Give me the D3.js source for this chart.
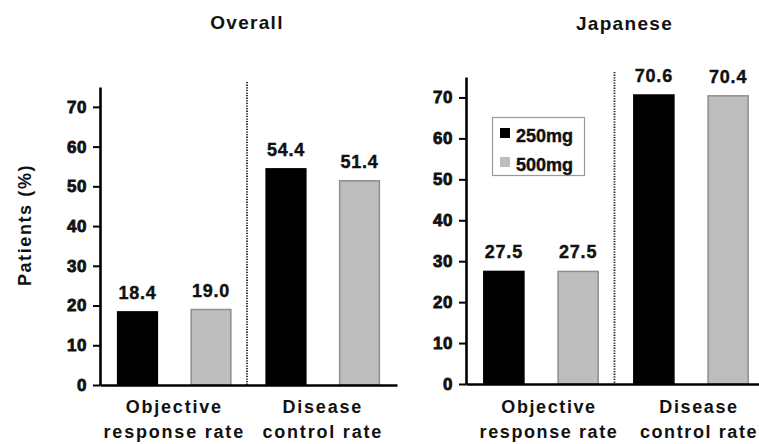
<!DOCTYPE html>
<html>
<head>
<meta charset="utf-8">
<script src="https://cdn.jsdelivr.net/npm/d3@7"></script>
<style>
  html, body { margin: 0; padding: 0; background: #fff; }
  svg { display: block; }
  text { font-family: "Liberation Sans", Arial, sans-serif; fill: #111; }
</style>
</head>
<body>
<svg id="chart" width="759" height="444"></svg>
<script>
// ---- data ----
const categories = ["Objective response rate", "Disease control rate"];
const categoryLines = [["Objective", "response rate"], ["Disease", "control rate"]];
const doses = ["250mg", "500mg"];
const panelTitles = ["Overall", "Japanese"];
const overall250 = [18.4, 54.4];
const overall500 = [19.0, 51.4];
const japanese250 = [27.5, 70.6];
const japanese500 = [27.5, 70.4];
const yTicks = [0, 10, 20, 30, 40, 50, 60, 70];
const yMax = 75;

const colors = { "250mg": "#000000", "500mg": "#bdbdbd" };
const strokes = { "250mg": "#000000", "500mg": "#8e8e8e" };

const svg = d3.select("#chart");

const panels = [
  { title: panelTitles[0], v250: overall250, v500: overall500,
    xr: [100, 397], yr: [385, 87], labelShift: 0, labelSpacing: 1.8, titleShift: 0, titleY: 29, legend: false },
  { title: panelTitles[1], v250: japanese250, v500: japanese500,
    xr: [466, 766], yr: [384, 77], labelShift: 8, labelSpacing: 1.6, titleShift: 10, titleY: 30, legend: true }
];

panels.forEach(p => {
  const g = svg.append("g");
  const x0 = d3.scaleBand().domain(categories).range(p.xr).padding(0);
  const x1 = d3.scaleBand().domain(doses).range([0, x0.bandwidth()])
    .paddingInner(0.46).paddingOuter(0.24);
  const y = d3.scaleLinear().domain([0, yMax]).range(p.yr);

  const rows = [];
  categories.forEach((c, i) => {
    rows.push({ cat: c, dose: "250mg", v: p.v250[i] });
    rows.push({ cat: c, dose: "500mg", v: p.v500[i] });
  });

  // dotted separator
  const sepX = x0(categories[1]) - 1.5;
  g.append("line")
    .attr("x1", sepX).attr("x2", sepX)
    .attr("y1", y(yMax) - 5).attr("y2", y(0))
    .attr("stroke", "#222").attr("stroke-width", 1.8)
    .attr("stroke-dasharray", "1.3,1.3");

  // bars
  g.selectAll("rect.bar").data(rows).join("rect")
    .attr("class", "bar")
    .attr("x", d => x0(d.cat) + x1(d.dose))
    .attr("width", x1.bandwidth())
    .attr("y", d => y(d.v))
    .attr("height", d => y(0) - y(d.v))
    .attr("fill", d => colors[d.dose])
    .attr("stroke", d => strokes[d.dose])
    .attr("stroke-width", 1.5);

  // value labels
  g.selectAll("text.val").data(rows).join("text")
    .attr("class", "val")
    .attr("x", d => x0(d.cat) + x1(d.dose) + x1.bandwidth() / 2)
    .attr("y", d => y(d.v) - 13)
    .attr("text-anchor", "middle")
    .style("font-size", "18px").style("font-weight", "bold")
    .style("letter-spacing", "0.8px")
    .attr("stroke", "#111").attr("stroke-width", 0.4)
    .text(d => d3.format(".1f")(d.v));

  // y axis
  const ya = g.append("g")
    .attr("transform", `translate(${p.xr[0]},0)`)
    .call(d3.axisLeft(y).tickValues(yTicks).tickSize(7).tickSizeOuter(0).tickPadding(6));
  ya.select(".domain").attr("stroke", "#000").attr("stroke-width", 2.6);
  ya.selectAll(".tick line").attr("stroke", "#000").attr("stroke-width", 2);
  ya.selectAll(".tick text")
    .style("font-size", "17px").style("font-weight", "bold")
    .style("font-family", "'Liberation Sans', Arial, sans-serif")
    .style("letter-spacing", "0.5px")
    .attr("fill", "#111").attr("stroke", "#111").attr("stroke-width", 0.8);

  // x axis
  const xa = g.append("g")
    .attr("transform", `translate(0,${y(0)})`)
    .call(d3.axisBottom(x0).tickSize(0).tickSizeOuter(0).tickFormat(""));
  xa.select(".domain").attr("stroke", "#000").attr("stroke-width", 2.6);

  // category labels
  categories.forEach((c, i) => {
    const cx = x0(c) + x0.bandwidth() / 2 + p.labelShift;
    const t = g.append("text")
      .attr("x", cx).attr("y", 413)
      .attr("text-anchor", "middle")
      .style("font-size", "18px").style("font-weight", "bold")
      .style("letter-spacing", p.labelSpacing + "px")
      .attr("fill", "#222");
    t.append("tspan").attr("x", cx).attr("y", 413).text(categoryLines[i][0]);
    t.append("tspan").attr("x", cx).attr("y", 438).text(categoryLines[i][1]);
  });

  // title
  g.append("text")
    .attr("x", sepX + p.titleShift).attr("y", p.titleY)
    .attr("text-anchor", "middle")
    .style("font-size", "19px").style("font-weight", "bold")
    .style("letter-spacing", "1.3px")
    .attr("fill", "#222")
    .text(p.title);

  // legend
  if (p.legend) {
    const lg = svg.append("g");
    lg.append("rect")
      .attr("x", 492.5).attr("y", 117.5).attr("width", 92).attr("height", 58)
      .attr("fill", "#fff").attr("stroke", "#9a9a9a").attr("stroke-width", 1.2);
    doses.forEach((d, i) => {
      const yy = 128 + i * 29;
      lg.append("rect")
        .attr("x", 500).attr("y", yy).attr("width", 10).attr("height", 10)
        .attr("fill", colors[d]);
      lg.append("text")
        .attr("x", 516).attr("y", yy + 14)
        .style("font-size", "18px").style("font-weight", "bold")
        .style("letter-spacing", "0px")
        .attr("fill", "#111").attr("stroke", "#111").attr("stroke-width", 0.4)
        .text(d);
    });
  }
});

// y-axis title
svg.append("text")
  .attr("transform", "translate(31,225) rotate(-90)")
  .attr("text-anchor", "middle")
  .style("font-size", "18px").style("font-weight", "bold")
  .style("letter-spacing", "1.6px")
  .attr("fill", "#333")
  .text("Patients (%)");
</script>
</body>
</html>
